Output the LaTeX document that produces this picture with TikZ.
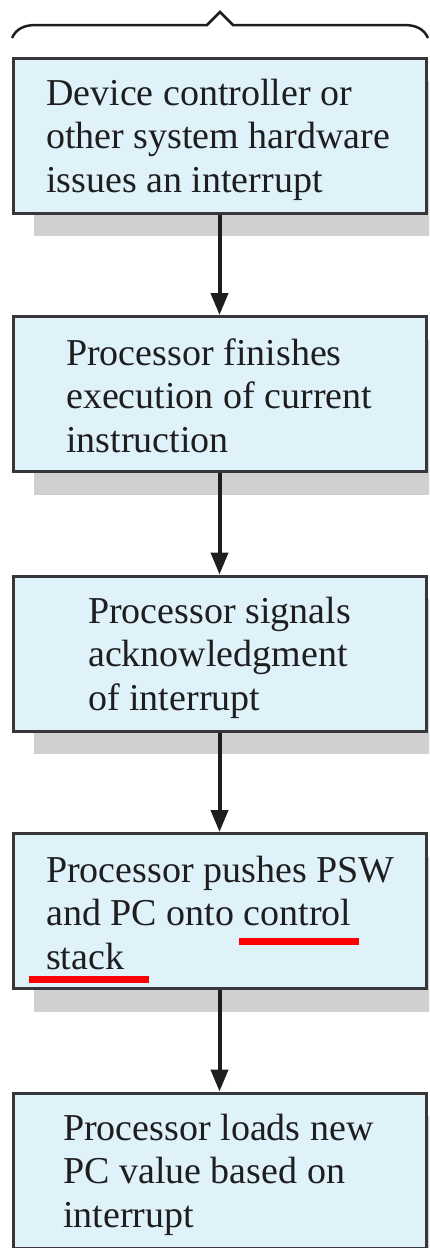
\documentclass[tikz,border=0pt]{standalone}
\usepackage{fontspec}
\setmainfont{Liberation Serif}
\usetikzlibrary{arrows.meta,shadows}
\definecolor{boxfill}{RGB}{223,242,250}
\definecolor{boxline}{RGB}{55,55,58}
\definecolor{shadowc}{RGB}{208,208,210}
\definecolor{inkc}{RGB}{30,30,32}
\definecolor{markred}{RGB}{255,0,0}
\tikzset{
  stepbox/.style={draw=boxline, line width=3pt, fill=boxfill,
    minimum width=413pt, minimum height=155pt, inner sep=0pt,
    drop shadow={shadow xshift=21pt, shadow yshift=-23pt, fill=shadowc, opacity=1}},
  steptext/.style={anchor=base west, align=left, inner sep=0pt, text=inkc,
    font=\fontsize{38pt}{43.5pt}\selectfont},
  flowarrow/.style={draw=inkc, line width=4pt, -{Triangle[width=17pt,length=22pt]}},
  bracec/.style={draw=inkc, line width=2.5pt, line join=miter},
  redmark/.style={draw=markred, line width=7pt}
}
\begin{document}
\begin{tikzpicture}[x=1pt,y=-1pt]
\useasboundingbox (0,0) rectangle (429,1248);
\clip (0,0) rectangle (429,1248);
% brace
\draw[bracec] (12,38) .. controls (16,29) and (24,25) .. (36,25) -- (207,25) -- (220,12) -- (233,25) -- (404,25) .. controls (416,25) and (424,29) .. (428,38);
% boxes
\node[stepbox] (b1) at (219.5,135.5) {};
\node[stepbox] (b2) at (219.5,394) {};
\node[stepbox] (b3) at (219.5,653.5) {};
\node[stepbox] (b4) at (219.5,911) {};
\node[stepbox] (b5) at (219.5,1170.5) {};
% texts (anchor = baseline of last line)
\node[steptext] (t1) at (46,192) {Device controller or\\other system hardware\\issues an interrupt};
\node[steptext] (t2) at (66,452) {Processor finishes\\execution of current\\instruction};
\node[steptext] (t3) at (88,710) {Processor signals\\acknowledgment\\of interrupt};
\node[steptext] (t4) at (46,969) {Processor pushes PSW\\and PC onto control\\stack};
\node[steptext] (t5) at (63,1227) {Processor loads new\\PC value based on\\interrupt};
% arrows
\draw[flowarrow] (b1.south) -- (b2.north);
\draw[flowarrow] (b2.south) -- (b3.north);
\draw[flowarrow] (b3.south) -- (b4.north);
\draw[flowarrow] (b4.south) -- (b5.north);
% red underlines
\draw[redmark] (239,941) -- (359,941);
\draw[redmark] (29,979) -- (149,979);
\end{tikzpicture}
\end{document}
